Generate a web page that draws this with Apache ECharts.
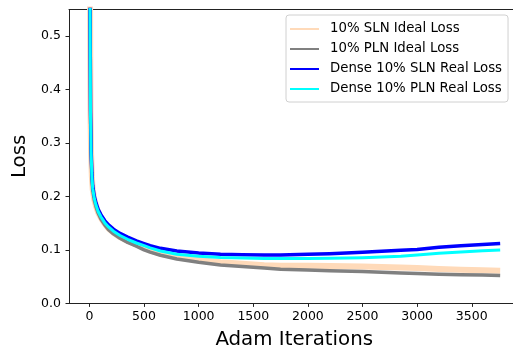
<!DOCTYPE html>
<html>
<head>
<meta charset="utf-8">
<script src="https://cdn.jsdelivr.net/npm/echarts@6/dist/echarts.min.js"></script>
<style>
  html, body { margin: 0; padding: 0; background: #fff; }
  #chart { width: 513px; height: 351px; }
</style>
</head>
<body>
<div id="chart"></div>
<script>
var iterations = [0, 3, 6, 10, 15, 22, 30, 45, 60, 80, 105, 140, 175, 220, 280, 350, 430, 500, 556, 650, 800,
    1000, 1200, 1400, 1600, 1750, 2000, 2200, 2500, 2850, 3000, 3200, 3400, 3600, 3760];

var slnIdeal = [1.6, 0.9, 0.55, 0.35, 0.283, 0.238, 0.213, 0.194, 0.182, 0.17, 0.16, 0.149, 0.14, 0.132, 0.124, 0.117, 0.11, 0.104, 0.099, 0.093, 0.087,
    0.081, 0.077, 0.074, 0.0715, 0.0705, 0.0705, 0.070, 0.069, 0.0673, 0.066, 0.0645, 0.063, 0.062, 0.061];
var plnIdeal = [1.6, 0.9, 0.55, 0.35, 0.282, 0.237, 0.212, 0.193, 0.181, 0.169, 0.158, 0.147, 0.138, 0.13, 0.122, 0.114, 0.107, 0.100, 0.096, 0.090, 0.083,
    0.077, 0.072, 0.069, 0.066, 0.064, 0.0624, 0.061, 0.0595, 0.057, 0.056, 0.0545, 0.0535, 0.053, 0.052];
var slnReal = [1.6, 0.9, 0.55, 0.36, 0.29, 0.245, 0.22, 0.2, 0.188, 0.176, 0.166, 0.155, 0.147, 0.139, 0.131, 0.124, 0.117, 0.112, 0.108, 0.103, 0.098,
    0.0945, 0.092, 0.091, 0.0905, 0.0905, 0.092, 0.093, 0.0955, 0.0995, 0.101, 0.105, 0.108, 0.110, 0.112];
var plnReal = [1.6, 0.9, 0.55, 0.35, 0.285, 0.24, 0.215, 0.196, 0.184, 0.172, 0.162, 0.151, 0.143, 0.135, 0.127, 0.12, 0.113, 0.108, 0.104, 0.098, 0.092,
    0.088, 0.086, 0.085, 0.084, 0.084, 0.084, 0.0845, 0.0855, 0.088, 0.0905, 0.094, 0.096, 0.0985, 0.100];

var xTicks = [0, 500, 1000, 1500, 2000, 2500, 3000, 3500];
var yTicks = [0, 0.1, 0.2, 0.3, 0.4, 0.5];

var names = ['10% SLN Ideal Loss', '10% PLN Ideal Loss', 'Dense 10% SLN Real Loss', 'Dense 10% PLN Real Loss'];
var colors = ['#ffdab9', '#808080', '#0000ff', '#00ffff'];
var widths = [6, 3.5, 3.5, 3];
var values = [slnIdeal, plnIdeal, slnReal, plnReal];

function pairs(ys) {
    return iterations.map(function (x, i) { return [x, ys[i]]; });
}

var font = 'DejaVu Sans';
var chart = echarts.init(document.getElementById('chart'));

var series = names.map(function (name, i) {
    return {
        name: name,
        type: 'line',
        data: pairs(values[i]),
        showSymbol: false,
        smooth: false,
        color: colors[i],
        lineStyle: { color: colors[i], width: widths[i], join: 'round' },
        itemStyle: { color: colors[i] },
        emphasis: { disabled: true },
        animation: false
    };
});

chart.setOption({
    animation: false,
    grid: {
        left: 69, top: 9.4, width: 450.4, height: 294,
        outerBoundsMode: 'none'
    },
    legend: {
        data: names,
        orient: 'vertical',
        left: 286, top: 15,
        padding: [6, 6, 5, 4],
        itemGap: 4,
        itemWidth: 29, itemHeight: 2,
        icon: 'rect',
        backgroundColor: 'rgba(255,255,255,0.8)',
        borderColor: '#d0d0d0', borderWidth: 1, borderRadius: 3,
        textStyle: { fontFamily: font, fontSize: 13.3, color: '#000', lineHeight: 16, padding: [0, 0, 0, 6] }
    },
    xAxis: [{
        type: 'value',
        min: -187, max: 3936,
        name: 'Adam Iterations',
        nameLocation: 'middle',
        nameGap: 26,
        nameTextStyle: { fontFamily: font, fontSize: 19.8, color: '#000' },
        splitLine: { show: false },
        axisLine: { show: true, onZero: false, lineStyle: { color: '#222', width: 1 } },
        axisTick: { show: true, length: 3.5, customValues: xTicks, lineStyle: { color: '#222' } },
        axisLabel: {
            customValues: xTicks, margin: 7, fontFamily: font, fontSize: 12.5, color: '#000',
            formatter: function (v) { return String(v); }
        }
    }, {
        type: 'value',
        position: 'top',
        min: -187, max: 3936,
        splitLine: { show: false },
        axisLine: { show: true, onZero: false, lineStyle: { color: '#222', width: 1 } },
        axisTick: { show: false },
        axisLabel: { show: false }
    }],
    yAxis: {
        type: 'value',
        min: 0, max: 0.55,
        name: 'Loss',
        nameLocation: 'middle',
        nameGap: 32,
        nameTextStyle: { fontFamily: font, fontSize: 19.8, color: '#000' },
        splitLine: { show: false },
        axisLine: { show: true, onZero: false, lineStyle: { color: '#222', width: 1 } },
        axisTick: { show: true, length: 3.5, customValues: yTicks, lineStyle: { color: '#222' } },
        axisLabel: {
            customValues: yTicks, margin: 8, fontFamily: font, fontSize: 12.5, color: '#000',
            formatter: function (v) { return v.toFixed(1); }
        }
    },
    series: series
});
</script>
</body>
</html>
